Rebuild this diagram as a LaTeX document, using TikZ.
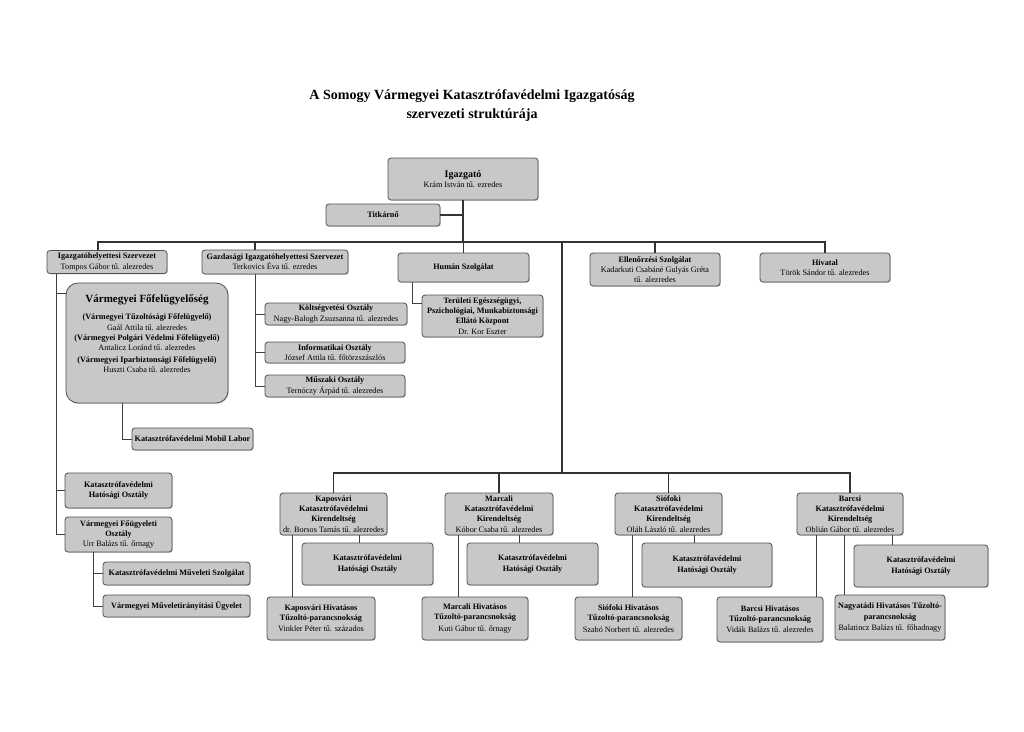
\documentclass[tikz,border=0pt]{standalone}
\usepackage{fontspec}
\setmainfont{Liberation Serif}
\usetikzlibrary{positioning, shadows}
\definecolor{boxgray}{RGB}{200,200,200}
\definecolor{edgegray}{RGB}{80,80,80}

\begin{document}
\begin{tikzpicture}[
  x=1pt, y=-1pt,
  unit/.style={draw=edgegray, line width=0.8pt, fill=boxgray, rounded corners=3pt, align=center, font=\fontsize{8.2}{10.2}\selectfont, inner sep=1pt, drop shadow={shadow xshift=0.9pt, shadow yshift=-0.9pt, opacity=0.35}},
  trunk/.style={draw=black!80, line width=1.3pt},
  conn/.style={draw=black!75, line width=0.8pt}
]
\fill[white] (0,0) rectangle (1024,731);
\useasboundingbox (0,0) rectangle (1024,731);

\node[font=\fontsize{14}{19}\selectfont\bfseries, align=center] (title) at (472,106) {A Somogy Vármegyei Katasztrófavédelmi Igazgatóság\\szervezeti struktúrája};

% top level
\node[unit, minimum width=150pt, minimum height=42pt] (igazgato) at (463,179) {{\fontsize{10}{12}\selectfont\bfseries Igazgató}\\Krám István tű. ezredes};
\node[unit, minimum width=114pt, minimum height=22pt] (titkarno) at (383,215) {\textbf{Titkárnő}};

\node[unit, minimum width=120pt, minimum height=23pt] (helyettes) at (107,262) {\textbf{Igazgatóhelyettesi Szervezet}\\Tompos Gábor tű. alezredes};
\node[unit, minimum width=146pt, minimum height=24pt] (gazdasagi) at (275,262) {\textbf{Gazdasági Igazgatóhelyettesi Szervezet}\\Terkovics Éva tű. ezredes};
\node[unit, minimum width=131pt, minimum height=29pt] (human) at (463.5,267.5) {\textbf{Humán Szolgálat}};
\node[unit, minimum width=130pt, minimum height=33pt] (ellenorzes) at (655,269.5) {\textbf{Ellenőrzési Szolgálat}\\Kadarkuti Csabáné Gulyás Gréta\\tű. alezredes};
\node[unit, minimum width=130pt, minimum height=29pt] (hivatal) at (825,267.5) {\textbf{Hivatal}\\Török Sándor tű. alezredes};

% left branch
\node[unit, rounded corners=12pt, minimum width=162pt, minimum height=120pt] (fofelugyelo) at (147,343) {{\fontsize{11}{13}\selectfont\bfseries Vármegyei Főfelügyelőség}\\[7pt]
  \textbf{(Vármegyei Tűzoltósági Főfelügyelő)}\\Gaál Attila tű. alezredes\\
  \textbf{(Vármegyei Polgári Védelmi Főfelügyelő)}\\Antalicz Loránd tű. alezredes\\[2pt]
  \textbf{(Vármegyei Iparbiztonsági Főfelügyelő)}\\Huszti Csaba tű. alezredes\\[8pt]~};
\node[unit, minimum width=121pt, minimum height=22pt] (mobillabor) at (192.5,439) {\textbf{Katasztrófavédelmi Mobil Labor}};
\node[unit, minimum width=107pt, minimum height=35pt] (hatosag) at (118.5,490.5) {\textbf{Katasztrófavédelmi}\\\textbf{Hatósági Osztály}};
\node[unit, minimum width=107pt, minimum height=35pt] (fougyelet) at (118.5,534.5) {\textbf{Vármegyei Főügyeleti}\\\textbf{Osztály}\\Urr Balázs tű. őrnagy};
\node[unit, minimum width=147pt, minimum height=23pt] (muveleti) at (176.5,573.5) {\textbf{Katasztrófavédelmi Műveleti Szolgálat}};
\node[unit, minimum width=147pt, minimum height=22pt] (ugyelet) at (176.5,606) {\textbf{Vármegyei Műveletirányítási Ügyelet}};

% economic branch
\node[unit, minimum width=142pt, minimum height=22pt] (koltseg) at (336,314) {\textbf{Költségvetési Osztály}\\Nagy-Balogh Zsuzsanna tű. alezredes};
\node[unit, minimum width=140pt, minimum height=21pt] (informatika) at (335,352.5) {\textbf{Informatikai Osztály}\\József Attila tű. főtörzszászlós};
\node[unit, minimum width=140pt, minimum height=22pt] (muszaki) at (335,386) {\textbf{Műszaki Osztály}\\Ternóczy Árpád tű. alezredes};
\node[unit, minimum width=121pt, minimum height=42pt] (teruleti) at (482.5,316) {\textbf{Területi Egészségügyi,}\\\textbf{Pszichológiai, Munkabiztonsági}\\\textbf{Ellátó Központ}\\Dr. Kor Eszter};

% kirendeltsegek
\node[unit, minimum width=107pt, minimum height=42pt] (kaposvar) at (333.5,514) {\textbf{Kaposvári}\\\textbf{Katasztrófavédelmi}\\\textbf{Kirendeltség}\\dr. Borsos Tamás tű. alezredes};
\node[unit, minimum width=108pt, minimum height=42pt] (marcali) at (499,514) {\textbf{Marcali}\\\textbf{Katasztrófavédelmi}\\\textbf{Kirendeltség}\\Kóbor Csaba tű. alezredes};
\node[unit, minimum width=107pt, minimum height=42pt] (siofok) at (668.5,514) {\textbf{Siófoki}\\\textbf{Katasztrófavédelmi}\\\textbf{Kirendeltség}\\Oláh László tű. alezredes};
\node[unit, minimum width=106pt, minimum height=42pt] (barcs) at (850,514) {\textbf{Barcsi}\\\textbf{Katasztrófavédelmi}\\\textbf{Kirendeltség}\\Oblián Gábor tű. alezredes};

\node[unit, minimum width=131pt, minimum height=42pt] (kaphat) at (367.5,564) {\textbf{Katasztrófavédelmi}\\\textbf{Hatósági Osztály}};
\node[unit, minimum width=131pt, minimum height=42pt] (marhat) at (532.5,564) {\textbf{Katasztrófavédelmi}\\\textbf{Hatósági Osztály}};
\node[unit, minimum width=130pt, minimum height=44pt] (siohat) at (707,565) {\textbf{Katasztrófavédelmi}\\\textbf{Hatósági Osztály}};
\node[unit, minimum width=134pt, minimum height=42pt] (barhat) at (921,566) {\textbf{Katasztrófavédelmi}\\\textbf{Hatósági Osztály}};

\node[unit, minimum width=108pt, minimum height=43pt] (kaphiv) at (321,618.5) {\textbf{Kaposvári Hivatásos}\\\textbf{Tűzoltó-parancsnokság}\\[1pt]Vinkler Péter tű. százados};
\node[unit, minimum width=106pt, minimum height=43pt] (marhiv) at (475,618.5) {\textbf{Marcali Hivatásos}\\\textbf{Tűzoltó-parancsnokság}\\[1pt]Kuti Gábor tű. őrnagy};
\node[unit, minimum width=107pt, minimum height=43pt] (siohiv) at (628.5,618.5) {\textbf{Siófoki Hivatásos}\\\textbf{Tűzoltó-parancsnokság}\\[1pt]Szabó Norbert tű. alezredes};
\node[unit, minimum width=106pt, minimum height=45pt] (barhiv) at (770,619.5) {\textbf{Barcsi Hivatásos}\\\textbf{Tűzoltó-parancsnokság}\\[1pt]Vidák Balázs tű. alezredes};
\node[unit, minimum width=110pt, minimum height=45pt] (nagyatad) at (890,617.5) {\textbf{Nagyatádi Hivatásos Tűzoltó-}\\\textbf{parancsnokság}\\[1pt]Balatincz Balázs tű. főhadnagy};

% connectors
\coordinate (bus) at (463,242);
\coordinate (hub) at (562,473);
\draw[trunk] (igazgato) -- (bus);
\draw[trunk] (titkarno.east) -- (titkarno.east -| bus);
\draw[trunk] ([xshift=-9pt]helyettes.north) |- (bus) -| (hivatal.north);
\draw[trunk] ([xshift=-20pt]gazdasagi.north) -- ([xshift=-20pt]gazdasagi.north |- bus);
\draw[trunk] (human.north) -- (human.north |- bus);
\draw[trunk] (ellenorzes.north) -- (ellenorzes.north |- bus);
\draw[trunk] (hub |- bus) -- (hub);
\draw[trunk] (kaposvar.north) |- (hub) -| (barcs.north);
\draw[trunk] (marcali.north) -- (marcali.north |- hub);
\draw[trunk] (siofok.north) -- (siofok.north |- hub);

\coordinate (lhs) at ([xshift=-51pt]helyettes.south);
\draw[conn] (lhs) |- (fougyelet.west);
\draw[conn] ([yshift=50pt]fofelugyelo.west) -- ([yshift=50pt]fofelugyelo.west -| lhs);
\draw[conn] (hatosag.west) -- (hatosag.west -| lhs);
\draw[conn] ([xshift=-25pt]fofelugyelo.south) |- (mobillabor.west);
\coordinate (fdrop) at ([xshift=-25pt]fougyelet.south);
\draw[conn] (fdrop) |- (ugyelet.west);
\draw[conn] (muveleti.west) -- (muveleti.west -| fdrop);

\coordinate (gdrop) at ([xshift=-20pt]gazdasagi.south);
\draw[conn] (gdrop) |- (muszaki.west);
\draw[conn] (koltseg.west) -- (koltseg.west -| gdrop);
\draw[conn] (informatika.west) -- (informatika.west -| gdrop);
\draw[conn] ([xshift=-51pt]human.south) |- ([yshift=13pt]teruleti.west);

\draw[conn] ([xshift=-41pt]kaposvar.south) -- ([xshift=-41pt]kaposvar.south |- kaphiv.north);
\draw[conn] ([xshift=26pt]kaposvar.south) -- ([xshift=26pt]kaposvar.south |- kaphat.north);
\draw[conn] ([xshift=-41pt]marcali.south) -- ([xshift=-41pt]marcali.south |- marhiv.north);
\draw[conn] ([xshift=20pt]marcali.south) -- ([xshift=20pt]marcali.south |- marhat.north);
\draw[conn] ([xshift=-36pt]siofok.south) -- ([xshift=-36pt]siofok.south |- siohiv.north);
\draw[conn] ([xshift=26pt]siofok.south) -- ([xshift=26pt]siofok.south |- siohat.north);
\draw[conn] ([xshift=-34pt]barcs.south) -- ([xshift=-34pt]barcs.south |- barhiv.north);
\draw[conn] ([xshift=-6pt]barcs.south) -- ([xshift=-6pt]barcs.south |- nagyatad.north);
\draw[conn] ([xshift=42pt]barcs.south) -- ([xshift=42pt]barcs.south |- barhat.north);
\end{tikzpicture}
\end{document}
